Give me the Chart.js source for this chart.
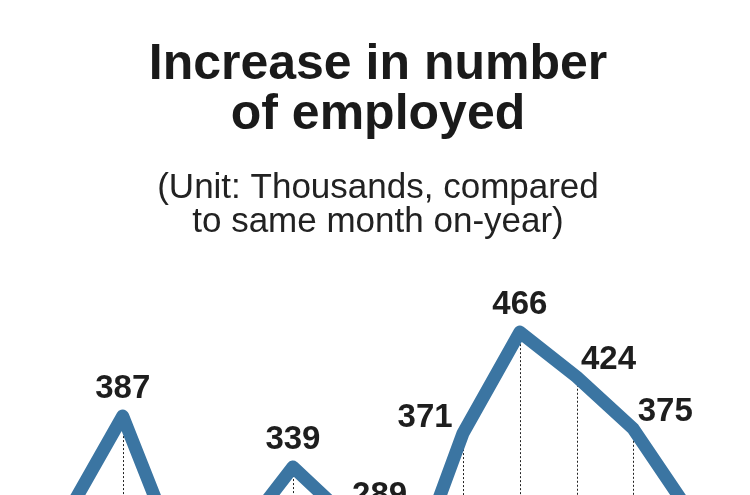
<!DOCTYPE html>
<html>
<head>
<meta charset="utf-8">
<script src="https://cdn.jsdelivr.net/npm/chart.js@4/dist/chart.umd.min.js"></script>
<style>
  html, body { margin: 0; padding: 0; background: #fff; }
  #wrap { width: 750px; height: 495px; }
</style>
</head>
<body>
<div id="wrap"><canvas id="chart"></canvas></div>
<script>
// months (Jul 2016 - Jun 2017)
var months = ['2016.7', '2016.8', '2016.9', '2016.10', '2016.11', '2016.12',
              '2017.1', '2017.2', '2017.3', '2017.4', '2017.5', '2017.6'];
// increase in number of employed, thousands
var employed = [293, 387, 252, 270, 339, 289, 226, 371, 466, 424, 375, 296];

var titleLines = ['Increase in number', 'of employed'];
var subtitleLines = ['(Unit: Thousands, compared', 'to same month on-year)'];

var LINE_COLOR = '#3b75a2';
var FONT = '"Liberation Sans", Arial, Helvetica, sans-serif';

// where each value label sits relative to its point
var labelPlace = ['below', 'top', 'below', 'below', 'top', 'upright', 'below',
                  'left', 'top', 'right', 'right', 'below'];

var dropLines = {
    id: 'dropLines',
    beforeDatasetsDraw: function (chart) {
        var ctx = chart.ctx;
        var meta = chart.getDatasetMeta(0);
        var bottom = chart.chartArea.bottom;
        ctx.save();
        ctx.strokeStyle = '#222';
        ctx.lineWidth = 1;
        ctx.setLineDash([2, 2]);
        meta.data.forEach(function (pt) {
            var x = Math.round(pt.x) + 0.5;
            ctx.beginPath();
            ctx.moveTo(x, pt.y);
            ctx.lineTo(x, bottom + 100);
            ctx.stroke();
        });
        ctx.restore();
    }
};

var valueLabels = {
    id: 'valueLabels',
    afterDatasetsDraw: function (chart) {
        var ctx = chart.ctx;
        var meta = chart.getDatasetMeta(0);
        ctx.save();
        ctx.font = 'bold 33px ' + FONT;
        ctx.fillStyle = '#1e1e1e';
        ctx.textAlign = 'center';
        ctx.textBaseline = 'alphabetic';
        meta.data.forEach(function (pt, i) {
            var dx = 0, dy = -18;
            if (labelPlace[i] === 'right') { dx = 32; dy = -8; }
            if (labelPlace[i] === 'upright') { dx = 30; dy = -15; }
            if (labelPlace[i] === 'left') { dx = -38; dy = -6; }
            if (labelPlace[i] === 'below') { dx = 0; dy = 48; }
            ctx.fillText(String(employed[i]), pt.x + dx, pt.y + dy);
        });
        ctx.restore();
    }
};

new Chart(document.getElementById('chart'), {
    type: 'line',
    data: {
        labels: months,
        datasets: [{
            data: employed,
            borderColor: LINE_COLOR,
            borderWidth: 13,
            borderJoinStyle: 'round',
            borderCapStyle: 'round',
            tension: 0,
            pointRadius: 0,
            fill: false,
            clip: false
        }]
    },
    options: {
        responsive: true,
        maintainAspectRatio: false,
        animation: false,
        layout: { padding: { left: 66, right: 60, top: 0, bottom: 0 } },
        plugins: {
            legend: { display: false },
            tooltip: { enabled: false },
            title: {
                display: true,
                text: titleLines,
                color: '#1a1a1a',
                font: { family: FONT, size: 50, weight: 'bold', lineHeight: 1.0 },
                padding: { top: 40, bottom: 0 }
            },
            subtitle: {
                display: true,
                text: subtitleLines,
                color: '#222',
                font: { family: FONT, size: 35, weight: 'normal', lineHeight: 0.96 },
                padding: { top: 32, bottom: 9 }
            }
        },
        scales: {
            x: { display: false, offset: false },
            y: { display: false, min: 312.7, max: 545 }
        }
    },
    plugins: [dropLines, valueLabels]
});
</script>
</body>
</html>
